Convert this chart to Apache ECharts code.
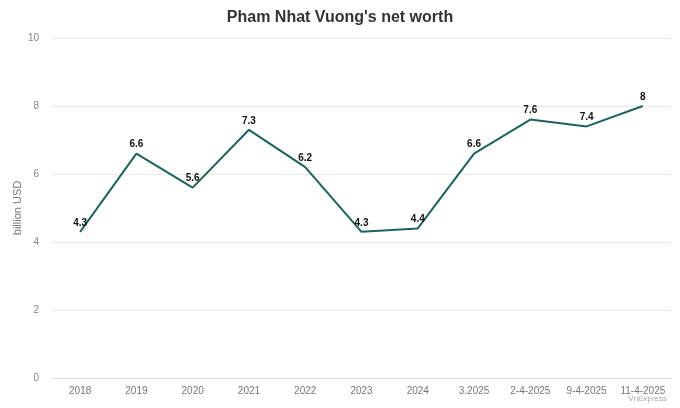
<!DOCTYPE html>
<html>
<head>
<meta charset="utf-8">
<script src="https://cdn.jsdelivr.net/npm/echarts@6/dist/echarts.min.js"></script>
<style>
  html, body { margin: 0; padding: 0; background: #fff; }
  #chart { width: 680px; height: 408px; }
</style>
</head>
<body>
<div id="chart"></div>
<script>
// data
const categories = ['2018', '2019', '2020', '2021', '2022', '2023', '2024', '3.2025', '2-4-2025', '9-4-2025', '11-4-2025']
const netWorth = [4.3, 6.6, 5.6, 7.3, 6.2, 4.3, 4.4, 6.6, 7.6, 7.4, 8]
const yTicks = { min: 0, max: 10, interval: 2 }

const chart = echarts.init(document.getElementById('chart'))
chart.setOption({
  animation: false,
  textStyle: { fontFamily: 'Liberation Sans, Arial, sans-serif' },
  title: [
    {
      text: "Pham Nhat Vuong's net worth",
      left: 'center',
      top: 5,
      textStyle: { fontSize: 16, fontWeight: 'bold', color: '#333' },
    },
    {
      text: 'VnExpress',
      right: 8,
      bottom: 0,
      textStyle: { fontSize: 8, fontWeight: 'normal', color: '#aaa' },
    },
  ],
  grid: { left: 52, right: 9, top: 38, bottom: 30 },
  xAxis: {
    type: 'category',
    data: categories,
    boundaryGap: true,
    axisTick: { show: false },
    axisLine: { lineStyle: { color: '#ddd' } },
    axisLabel: { color: '#777', fontSize: 10, margin: 8, interval: 0 },
  },
  yAxis: {
    type: 'value',
    min: yTicks.min,
    max: yTicks.max,
    interval: yTicks.interval,
    name: 'billion USD',
    nameLocation: 'middle',
    nameGap: 29,
    nameMoveOverlap: false,
    nameTextStyle: { color: '#777', fontSize: 11 },
    axisLabel: { color: '#888', fontSize: 10, margin: 13 },
    axisLine: { show: false },
    axisTick: { show: false },
    splitLine: { lineStyle: { color: '#e8e8e8' } },
  },
  series: [
    {
      type: 'line',
      data: netWorth,
      symbol: 'circle',
      symbolSize: 2,
      showSymbol: true,
      showAllSymbol: true,
      itemStyle: { color: 'rgba(0,0,0,0)' },
      lineStyle: { color: '#1e625e', width: 2 },
      label: {
        show: true,
        position: 'top',
        distance: 3,
        color: '#111',
        fontSize: 10,
        fontWeight: 'bold',
      },
    },
  ],
})
</script>
</body>
</html>
